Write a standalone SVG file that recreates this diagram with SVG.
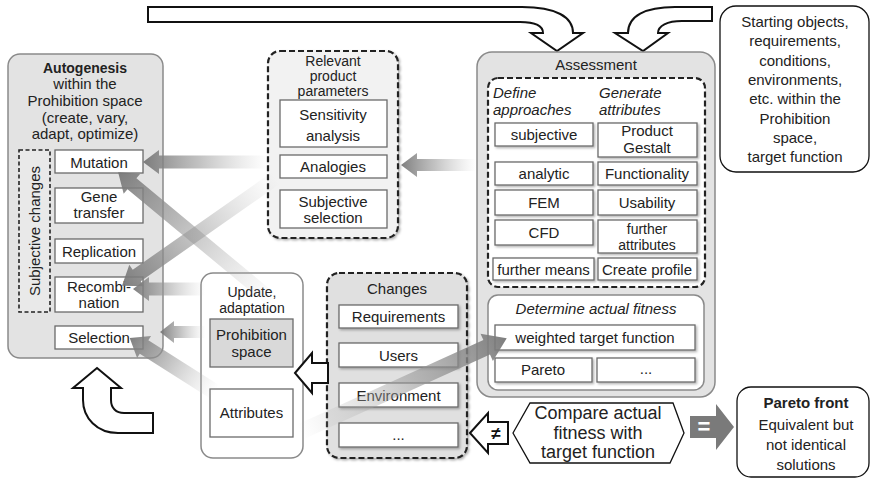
<svg xmlns="http://www.w3.org/2000/svg" width="873" height="480" viewBox="0 0 873 480">
<defs>
<style>
text{font-family:"Liberation Sans",Arial,sans-serif;font-size:15px;fill:#222;text-anchor:middle}
.b{font-weight:bold}
.i{font-style:italic}
.l{text-anchor:start}
.big{font-size:18px}
.sm{font-size:14px}
.grp{fill:#e3e3e3;stroke:#8a8a8a;stroke-width:1.5}
.wgrp{fill:#fff;stroke:#8a8a8a;stroke-width:1.5}
.dash{stroke:#222;stroke-width:2.2;stroke-dasharray:6,3}
.bx{fill:#fff;stroke:#6a6a6a;stroke-width:1.3}
.hol{fill:#fff;stroke:#111;stroke-width:2;stroke-linejoin:miter}
.blk{fill:#fff;stroke:#111;stroke-width:1.3}
.ga{fill:url(#fade)}
</style>
<linearGradient id="fade" x1="0" y1="0" x2="1" y2="0">
<stop offset="0" stop-color="#bbb" stop-opacity="0"/>
<stop offset="0.55" stop-color="#999" stop-opacity="0.6"/>
<stop offset="1" stop-color="#777" stop-opacity="0.95"/>
</linearGradient>
<filter id="sh" x="-10%" y="-10%" width="130%" height="130%">
<feDropShadow dx="1.5" dy="1.5" stdDeviation="1.2" flood-color="#000" flood-opacity="0.3"/>
</filter>
</defs>

<!-- big hollow arrows -->
<g id="connectors">
<path class="hol" d="M148,7 L522,7 C556,7 573,17 573,33 L583,33 L557,51 L531,33 L543,33 C543,26 535,22 520,22 L148,22 Z"/>
<path class="hol" d="M712,7 L712,21 L682,21 C667,21 658,26 658,33 L668,33 L643,51 L615,33 L628,33 C628,16 645,7 675,7 Z"/>
<path class="hol" d="M97,368 L121,388 L111,388 L111,400 C111,408 116,413 124,413 L153,413 L153,433 L118,433 C97,433 83,418 83,400 L83,388 L73,388 Z"/>
</g>

<g id="autogenesis">
<rect class="grp" x="8" y="54" width="155" height="304" rx="12"/>
<text class="b" x="85" y="73" style="font-size:14px">Autogenesis</text>
<text x="85" y="89">within the</text>
<text x="85" y="106">Prohibition space</text>
<text x="85" y="123">(create, vary,</text>
<text x="85" y="139">adapt, optimize)</text>
<rect x="19" y="150" width="31" height="162" fill="#e9e9e9" stroke="#222" stroke-width="1.6" stroke-dasharray="4,2.5"/>
<text transform="translate(40,231) rotate(-90)">Subjective changes</text>
<g id="mutation"><rect class="bx" x="55" y="150" width="88" height="23"/><text x="99" y="168">Mutation</text></g>
<g id="gene"><rect class="bx" x="55" y="188" width="88" height="35"/><text x="99" y="202">Gene</text><text x="99" y="218">transfer</text></g>
<g id="replication"><rect class="bx" x="55" y="239" width="88" height="24"/><text x="99" y="257">Replication</text></g>
<g id="recombination"><rect class="bx" x="55" y="277" width="88" height="35"/><text x="99" y="292">Recombi-</text><text x="99" y="308">nation</text></g>
<g id="selection"><rect class="bx" x="55" y="326" width="88" height="23"/><text x="99" y="343">Selection</text></g>
</g>

<g id="relevant">
<rect x="268" y="51" width="130" height="187" rx="12" fill="#f2f2f2" class="dash" filter="url(#sh)"/>
<text class="sm" x="333" y="66">Relevant</text>
<text class="sm" x="333" y="81">product</text>
<text class="sm" x="333" y="96">parameters</text>
<g id="sensitivity"><rect class="bx" x="280" y="100" width="107" height="47"/><text x="333" y="120">Sensitivity</text><text x="333" y="141">analysis</text></g>
<g id="analogies"><rect class="bx" x="280" y="155" width="107" height="23"/><text x="333" y="172">Analogies</text></g>
<g id="subjsel"><rect class="bx" x="280" y="190" width="107" height="38"/><text x="333" y="207">Subjective</text><text x="333" y="223">selection</text></g>
</g>

<g id="assessment">
<rect class="grp" x="477" y="52" width="238" height="345" rx="15"/>
<text x="596" y="70">Assessment</text>
<rect x="488" y="78" width="217" height="209" rx="10" fill="#fff" class="dash"/>
<text class="i l" x="493" y="98">Define</text>
<text class="i l" x="493" y="115">approaches</text>
<text class="i l" x="599" y="98">Generate</text>
<text class="i l" x="599" y="115">attributes</text>
<g filter="url(#sh)">
<rect class="bx" x="495" y="123" width="98" height="23"/>
<rect class="bx" x="495" y="162" width="98" height="23"/>
<rect class="bx" x="495" y="190" width="98" height="25"/>
<rect class="bx" x="495" y="220" width="98" height="25"/>
<rect class="bx" x="493" y="258" width="101" height="22"/>
<rect class="bx" x="598" y="123" width="99" height="34"/>
<rect class="bx" x="598" y="162" width="99" height="23"/>
<rect class="bx" x="598" y="190" width="99" height="25"/>
<rect class="bx" x="598" y="220" width="99" height="33"/>
<rect class="bx" x="598" y="258" width="99" height="22"/>
</g>
<text x="544" y="140">subjective</text>
<text x="544" y="179">analytic</text>
<text x="544" y="208">FEM</text>
<text x="544" y="238">CFD</text>
<text x="543.5" y="275">further means</text>
<text x="647" y="136">Product</text>
<text x="647" y="153">Gestalt</text>
<text x="647" y="179">Functionality</text>
<text x="647" y="208">Usability</text>
<text class="sm" x="647" y="234">further</text>
<text class="sm" x="647" y="250">attributes</text>
<text x="647" y="275">Create profile</text>
<g id="fitness">
<rect class="wgrp" x="488" y="295" width="216" height="95" rx="10"/>
<text class="i" x="596" y="314">Determine actual fitness</text>
<g filter="url(#sh)">
<rect class="bx" x="495" y="325" width="200" height="25"/>
<rect class="bx" x="495" y="358" width="97" height="24"/>
<rect class="bx" x="597" y="358" width="98" height="24"/>
</g>
<text x="595" y="343">weighted target function</text>
<text x="543" y="375">Pareto</text>
<text x="646" y="374">...</text>
</g>
</g>

<g id="update">
<rect class="wgrp" x="201" y="273" width="102" height="185" rx="12"/>
<text class="sm" x="252" y="297">Update,</text>
<text class="sm" x="252" y="313">adaptation</text>
<g id="prohibition"><rect x="210" y="319" width="83" height="48" fill="#d9d9d9" stroke="#6a6a6a" stroke-width="1.3"/><text x="251.5" y="340">Prohibition</text><text x="251.5" y="357">space</text></g>
<g id="attributes"><rect class="bx" x="210" y="389" width="83" height="48"/><text x="251.5" y="418">Attributes</text></g>
</g>

<g id="changes">
<rect x="327" y="273" width="140" height="185" rx="12" fill="#e0e0e0" class="dash" filter="url(#sh)"/>
<text x="397" y="294">Changes</text>
<g filter="url(#sh)">
<rect class="bx" x="339" y="305" width="119" height="23"/>
<rect class="bx" x="339" y="343" width="119" height="24"/>
<rect class="bx" x="339" y="383" width="119" height="24"/>
<rect class="bx" x="339" y="423" width="119" height="24"/>
</g>
<text x="398.5" y="322">Requirements</text>
<text x="398.5" y="361">Users</text>
<text x="398.5" y="401">Environment</text>
<text x="398.5" y="440">...</text>
</g>

<g id="starting">
<rect class="blk" x="720" y="6" width="149" height="166" rx="16"/>
<text x="795" y="27">Starting objects,</text>
<text x="795" y="46">requirements,</text>
<text x="795" y="66">conditions,</text>
<text x="795" y="85">environments,</text>
<text x="795" y="104">etc. within the</text>
<text x="795" y="124">Prohibition</text>
<text x="795" y="143">space,</text>
<text x="795" y="162">target function</text>
</g>

<g id="compare">
<path class="blk" d="M513,433 L530,403 L673,403 L684,433 L670,463 L530,463 Z"/>
<text class="big" x="598" y="419">Compare actual</text>
<text class="big" x="598" y="439">fitness with</text>
<text class="big" x="598" y="458">target function</text>
</g>

<g id="pareto">
<rect class="blk" x="737" y="387" width="132" height="90" rx="14"/>
<text class="b" x="806" y="408">Pareto front</text>
<text x="806" y="430">Equivalent but</text>
<text x="806" y="450">not identical</text>
<text x="806" y="470">solutions</text>
</g>

<g id="flow-arrows">
<path class="ga" transform="translate(268,162) rotate(180)" d="M0,-6.5 L109,-6.5 L109,-12 L125,0 L109,12 L109,6.5 L0,6.5 Z"/>
<path class="ga" transform="translate(476,165) rotate(180)" d="M0,-6 L59,-6 L59,-12 L75,0 L59,12 L59,6 L0,6 Z"/>
<path class="ga" transform="translate(272,300) rotate(-140.3)" d="M0,-7 L182,-7 L182,-13 L200,0 L182,13 L182,7 L0,7 Z"/>
<path class="ga" transform="translate(276,178) rotate(145)" d="M0,-7 L170,-7 L170,-13 L188,0 L170,13 L170,7 L0,7 Z"/>
<path class="ga" transform="translate(205,289) rotate(180)" d="M0,-6.5 L56,-6.5 L56,-12 L72,0 L56,12 L56,6.5 L0,6.5 Z"/>
<path class="ga" transform="translate(205,332) rotate(180)" d="M0,-6 L31,-6 L31,-11 L45,0 L31,11 L31,6 L0,6 Z"/>
<path class="ga" transform="translate(215,392) rotate(-147.6)" d="M0,-8 L84,-8 L84,-13 L101,0 L84,13 L84,8 L0,8 Z"/>
<path class="ga" transform="translate(300,432) rotate(-24.4)" d="M0,-8 L205,-8 L205,-15 L227,0 L205,15 L205,8 L0,8 Z"/>
<path class="hol" d="M295,373 L312,353 L312,363 L328,363 L328,383 L312,383 L312,393 Z"/>
<path class="hol" d="M470,433 L488,413 L488,422 L508,422 L508,444 L488,444 L488,453 Z"/>
<text class="b" x="496" y="439" style="font-size:17px;fill:#111">≠</text>
<path d="M690,416 L716,416 L716,404 L734,427 L716,450 L716,438 L690,438 Z" fill="#7a7a7a"/>
<text class="b" x="704" y="434" style="font-size:22px;fill:#fff">=</text>
</g>
</svg>
